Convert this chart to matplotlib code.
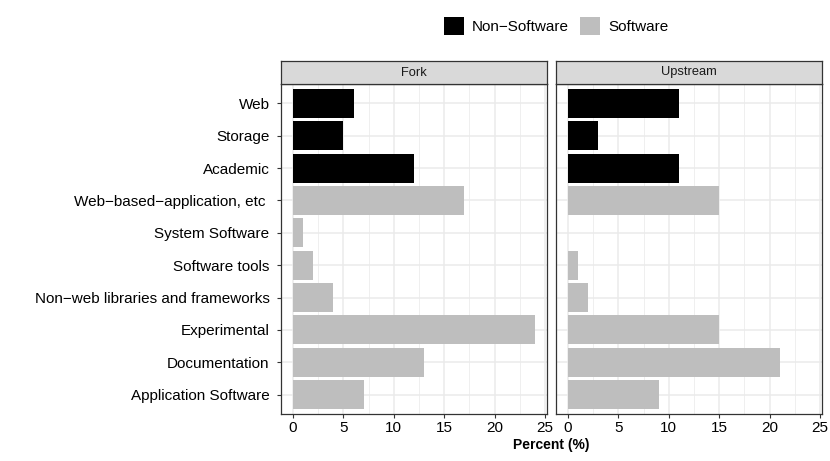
import numpy as np
import matplotlib.pyplot as plt
from matplotlib.patches import Patch

plt.rcParams['font.family'] = ['Liberation Sans', 'DejaVu Sans']

# categories, top to bottom
categories = ['Web', 'Storage', 'Academic', 'Web\u2212based\u2212application, etc ',
              'System Software', 'Software tools', 'Non\u2212web libraries and frameworks',
              'Experimental', 'Documentation', 'Application Software']
kind = ['Non-Software'] * 3 + ['Software'] * 7
fork = [6, 5, 12, 17, 1, 2, 4, 24, 13, 7]
upstream = [11, 3, 11, 15, 0, 1, 2, 15, 21, 9]
panels = ['Fork', 'Upstream']
colors = {'Non-Software': 'black', 'Software': '#bebebe'}
x_ticks = [0, 5, 10, 15, 20, 25]

W, H = 830, 461
fig = plt.figure(figsize=(W / 100, H / 100), dpi=100)

def px_axes(x0, y0, x1, y1):
    return fig.add_axes([x0 / W, 1 - y1 / H, (x1 - x0) / W, (y1 - y0) / H])

n = len(categories)
ypos = np.arange(n)[::-1] + 1  # Web at top
panel_x = [(281, 547), (556, 822)]
top, strip_h, bottom = 61, 23, 414

for i, (vals, name) in enumerate(zip([fork, upstream], panels)):
    x0, x1 = panel_x[i]
    ax = px_axes(x0, top + strip_h, x1, bottom)
    ax.set_facecolor('white')
    ax.barh(ypos, vals, height=0.9, color=[colors[k] for k in kind], zorder=3)
    ax.set_xlim(-1.2, 25.2)
    ax.set_ylim(0.4, n + 0.6)
    ax.set_xticks(x_ticks)
    ax.set_xticks([2.5, 7.5, 12.5, 17.5, 22.5], minor=True)
    ax.set_yticks(ypos)
    ax.grid(True, which='major', color='#ebebeb', lw=1.1, zorder=0)
    ax.grid(True, which='minor', axis='x', color='#ebebeb', lw=0.55, zorder=0)
    ax.tick_params(axis='x', which='minor', length=0)
    ax.tick_params(axis='both', which='major', length=2.8, width=0.8, color='#333333',
                   labelsize=11, labelcolor='black')
    ax.tick_params(axis='x', pad=2)
    ax.tick_params(axis='y', pad=5.5)
    for s in ax.spines.values():
        s.set_color('#333333')
        s.set_linewidth(0.9)
    if i == 0:
        ax.set_yticklabels(categories)
    else:
        ax.set_yticklabels([])
        ax.tick_params(axis='y', length=0)
    # strip
    sx = px_axes(x0, top, x1, top + strip_h)
    sx.set_facecolor('#d9d9d9')
    sx.set_xticks([])
    sx.set_yticks([])
    for s in sx.spines.values():
        s.set_color('#333333')
        s.set_linewidth(0.9)
    sx.text(0.5, 0.5, name, ha='center', va='center', fontsize=9.3, color='#1a1a1a',
            transform=sx.transAxes)

fig.text((281 + 822) / 2 / W, 1 - 445 / H, 'Percent (%)', ha='center', va='center',
         fontsize=10, fontweight='bold')

handles = [Patch(facecolor=colors['Non-Software'], edgecolor='none'),
           Patch(facecolor=colors['Software'], edgecolor='none')]
fig.legend(handles, ['Non\u2212Software', 'Software'], ncol=2, frameon=False,
           loc='center', bbox_to_anchor=(556 / W, 1 - 26 / H), fontsize=11,
           handlelength=1.35, handleheight=1.35, handletextpad=0.5, columnspacing=0.7)

fig.savefig('out.png', dpi=100)
